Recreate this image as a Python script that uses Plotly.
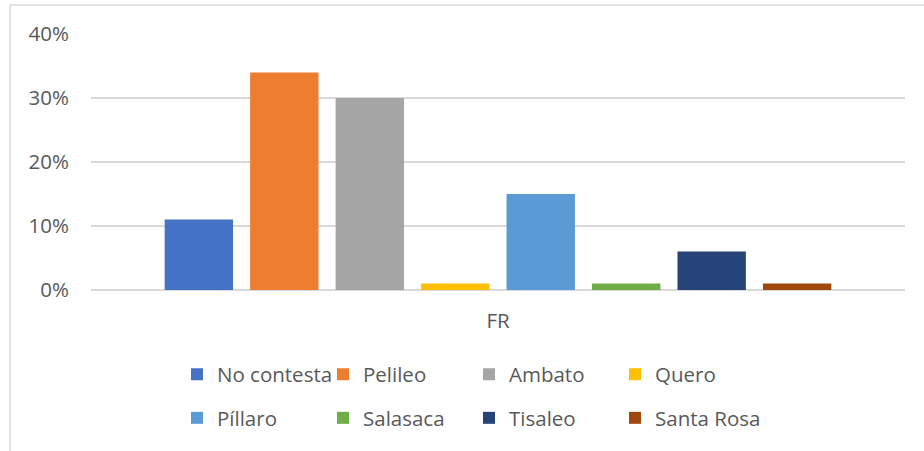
import plotly.graph_objects as go

categories = ["FR"]
series_names = ["No contesta", "Pelileo", "Ambato", "Quero",
                "Píllaro", "Salasaca", "Tisaleo", "Santa Rosa"]
series_values = [0.11, 0.34, 0.30, 0.01, 0.15, 0.01, 0.06, 0.01]
series_colors = ["#4472C4", "#ED7D31", "#A5A5A5", "#FFC000",
                 "#5B9BD5", "#70AD47", "#264478", "#9E480E"]
y_tickvals = [0, 0.1, 0.2, 0.3, 0.4]
y_ticktext = ["0%", "10%", "20%", "30%", "40%"]

FONT = "Open Sans"
TXT = "#595959"
FS = 20.5

W, H = 924, 451
L, R, T, B = 91, 19, 34, 161
PW = W - L - R
PH = H - T - B

def px_x(px):
    return (px - L) / PW

def px_y(py):
    return (H - B - py) / PH

fig = go.Figure()
for i, (name, val, col) in enumerate(zip(series_names, series_values, series_colors)):
    fig.add_trace(go.Bar(
        x=categories, y=[val], name=name,
        marker=dict(color=col, line=dict(width=0)),
        legend="legend" if i < 4 else "legend2",
    ))

legend_common = dict(
    orientation="h", xanchor="left", yanchor="middle",
    font=dict(family=FONT, size=FS, color=TXT),
    bgcolor="rgba(0,0,0,0)", entrywidth=101, entrywidthmode="pixels",
    traceorder="normal", itemclick=False,
)

fig.update_layout(
    width=W, height=H,
    margin=dict(l=L, r=R, t=T, b=B, pad=0),
    paper_bgcolor="white", plot_bgcolor="white",
    barmode="group", bargap=0.16, bargroupgap=0.2,
    font=dict(family=FONT, size=FS, color=TXT),
    xaxis=dict(showgrid=False, showline=False, ticks="",
               tickfont=dict(family=FONT, size=FS, color=TXT),
               ticklabelstandoff=16),
    yaxis=dict(range=[0, 0.4], tickvals=y_tickvals, ticktext=y_ticktext,
               showgrid=True, gridcolor="#D9D9D9", gridwidth=1.5,
               zeroline=True, zerolinecolor="#D9D9D9", zerolinewidth=1.5,
               showline=False, ticks="",
               tickfont=dict(family=FONT, size=FS, color=TXT),
               ticklabelstandoff=21),
    legend=dict(legend_common, x=px_x(177), y=px_y(374.5)),
    legend2=dict(legend_common, x=px_x(177), y=px_y(418)),
    showlegend=True,
    shapes=[
        dict(type="line", xref="paper", yref="paper",
             x0=px_x(10), x1=px_x(10), y0=px_y(5), y1=px_y(460),
             line=dict(color="#D9D9D9", width=1.5)),
        dict(type="line", xref="paper", yref="paper",
             x0=px_x(10), x1=px_x(930), y0=px_y(5), y1=px_y(5),
             line=dict(color="#D9D9D9", width=1.5)),
    ],
)

fig.write_html("out.html",
               config={"displayModeBar": False, "staticPlot": True},
               post_script="document.body.style.margin='0';document.body.style.padding='0';")
